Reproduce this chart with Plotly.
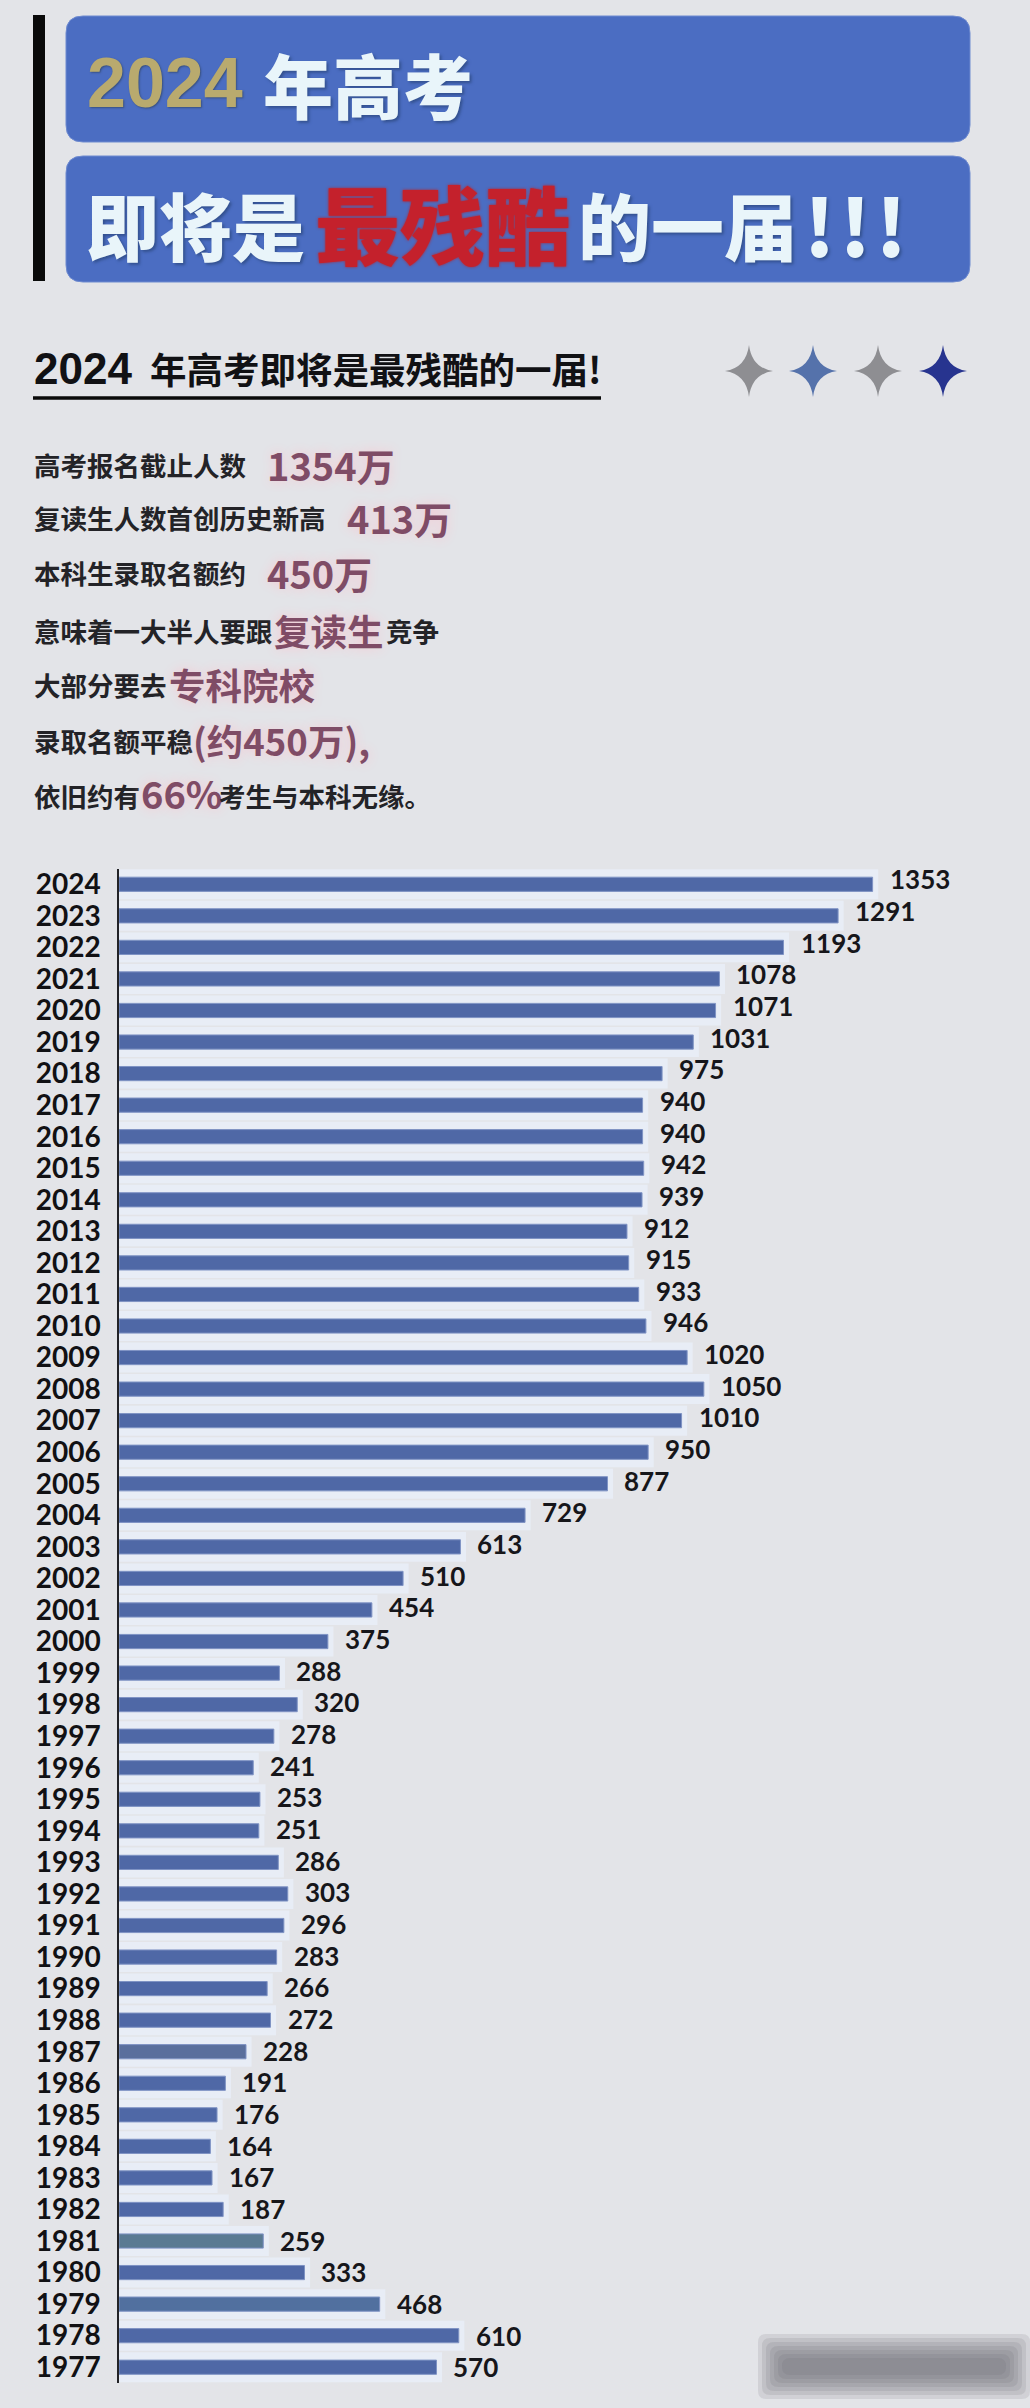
import plotly.graph_objects as go

W, H = 1030, 2408

years = [str(y) for y in range(2024, 1976, -1)]
values = [1353, 1291, 1193, 1078, 1071, 1031, 975, 940, 940, 942, 939, 912,
          915, 933, 946, 1020, 1050, 1010, 950, 877, 729, 613, 510, 454,
          375, 288, 320, 278, 241, 253, 251, 286, 303, 296, 283, 266,
          272, 228, 191, 176, 164, 167, 187, 259, 333, 468, 610, 570]
bar_colors = ['#4f68a6'] * 48
bar_colors[years.index('1981')] = '#5a7a92'
bar_colors[years.index('1987')] = '#5a6f9c'
bar_colors[years.index('1979')] = '#51709f'

BG = '#e3e4e8'
BLUE = '#4b6dc2'
WHITE = '#e9f5fa'
RED = '#c4212c'
MAUVE = '#7f4c66'
INK = '#232327'
CJK = 'Noto Sans CJK SC'
SANS = 'Liberation Sans'
NUM = 'Lato'


def px(x):
    return x / W


def py(y):
    return 1 - y / H


def rounded(x0, y0, x1, y1, r):
    p = lambda x, y: f'{px(x)} {py(y)}'
    return (f'M {p(x0 + r, y0)} L {p(x1 - r, y0)} Q {p(x1, y0)} {p(x1, y0 + r)} '
            f'L {p(x1, y1 - r)} Q {p(x1, y1)} {p(x1 - r, y1)} '
            f'L {p(x0 + r, y1)} Q {p(x0, y1)} {p(x0, y1 - r)} '
            f'L {p(x0, y0 + r)} Q {p(x0, y0)} {p(x0 + r, y0)} Z')


def star(cx, cy, rx, ry):
    p = lambda x, y: f'{px(x)} {py(y)}'
    c = p(cx + rx * 0.12, cy - ry * 0.12)
    d = p(cx + rx * 0.12, cy + ry * 0.12)
    e = p(cx - rx * 0.12, cy + ry * 0.12)
    f = p(cx - rx * 0.12, cy - ry * 0.12)
    return (f'M {p(cx, cy - ry)} Q {c} {p(cx + rx, cy)} Q {d} {p(cx, cy + ry)} '
            f'Q {e} {p(cx - rx, cy)} Q {f} {p(cx, cy - ry)} Z')


fig = go.Figure()

# pale halo behind the bars
fig.add_trace(go.Bar(y=years, x=[v + 10 for v in values], orientation='h', width=0.95,
                     marker=dict(color='#e8edf6', line_width=0), hoverinfo='skip'))
fig.add_trace(go.Bar(y=years, x=values, orientation='h', width=0.45,
                     marker=dict(color=bar_colors, line=dict(color='#7f93c4', width=1))))

shapes = [
    dict(type='rect', xref='paper', yref='paper', x0=px(33), x1=px(45), y0=py(15), y1=py(281),
         fillcolor='#0a0a0a', line_width=0),
    dict(type='path', xref='paper', yref='paper', path=rounded(66, 16, 970, 142, 17),
         fillcolor=BLUE, line=dict(color='#6f8bd0', width=1)),
    dict(type='path', xref='paper', yref='paper', path=rounded(66, 156, 970, 282, 17),
         fillcolor=BLUE, line=dict(color='#6f8bd0', width=1)),
    dict(type='line', xref='paper', yref='paper', x0=px(33), x1=px(601), y0=py(398), y1=py(398),
         line=dict(color='#0a0a0a', width=3.5)),
]
for cx, col in zip([749, 813, 878, 943], ['#8e8e92', '#5572ab', '#8e8e92', '#27348f']):
    shapes.append(dict(type='path', xref='paper', yref='paper', path=star(cx, 371, 24, 26),
                       fillcolor=col, line_width=0))
# blurred watermark, bottom right
for pad in [14, 10, 6, 2, -2, -6, -10]:
    shapes.append(dict(type='path', xref='paper', yref='paper',
                       path=rounded(772 - pad, 2348 - pad, 1016 + pad, 2385 + pad, 8),
                       fillcolor='#66666a', opacity=0.14, line_width=0))

annotations = []


def text(x, y, s, size, color=INK, family=CJK, weight=700, shadow=None):
    annotations.append(dict(xref='paper', yref='paper', x=px(x), y=py(y), text=s,
                            xanchor='left', yanchor='middle', showarrow=False, borderpad=0,
                            font=dict(size=size, color=color, family=family, weight=weight,
                                      shadow=shadow or 'none')))


# header
hd = '2px 2px 3px #33518f'
text(86, 83, '2024', 70, '#b9aa6e', SANS, 700, '1px 1px 2px #38507f')
text(262, 83, '年高考', 70, WHITE, CJK, 900, hd)
text(85, 223, '即将是', 73, WHITE, CJK, 900, hd)
text(314, 221, '最残酷', 85, RED, CJK, 900, '0 0 3px #b8242c')
text(577, 223, '的一届', 73, WHITE, CJK, 900, hd)
text(803, 223, '!\u200a!\u200a!', 78, WHITE, CJK, 900, hd)

# subtitle
text(33, 368, '2024', 44, '#111114', SANS, 700)
text(149, 368, '年高考即将是最残酷的一届!', 36.5, '#111114', CJK, 700)

# body lines
glow = '0 0 12px #f6c8d2'
text(33, 464, '高考报名截止人数', 26.5)
text(266, 464, '1354万', 38, MAUVE, CJK, 700, glow)
text(33, 517, '复读生人数首创历史新高', 26.5)
text(346, 517, '413万', 38, MAUVE, CJK, 700, glow)
text(33, 573, '本科生录取名额约', 26.5)
text(266, 573, '450万', 38, MAUVE, CJK, 700, glow)
text(33, 630, '意味着一大半人要跟', 26.5)
text(273, 630, '复读生', 36.5, MAUVE, CJK, 700, glow)
text(385, 630, '竞争', 26.5)
text(33, 684, '大部分要去', 26.5)
text(168, 684, '专科院校', 36.5, MAUVE, CJK, 700, glow)
text(33, 740, '录取名额平稳', 26.5)
text(192, 740, '(约450万),', 36.5, MAUVE, CJK, 700, glow)
text(33, 795, '依旧约有', 26.5)
text(140, 793, '66%', 38, MAUVE, CJK, 700, glow)
text(218, 795, '考生与本科无缘。', 26.5)

# value labels
for i, v in enumerate(values):
    annotations.append(dict(xref='x', yref='y', x=v, y=i, text=str(v), xanchor='left',
                            yanchor='middle', showarrow=False, xshift=15, yshift=5 - i * 5 / 47,
                            font=dict(size=26, color='#16161a', family=NUM, weight=700)))

fig.update_layout(
    width=W, height=H, autosize=False,
    margin=dict(l=0, r=0, t=0, b=0, pad=0),
    paper_bgcolor=BG, plot_bgcolor='rgba(0,0,0,0)',
    barmode='overlay', showlegend=False,
    shapes=shapes, annotations=annotations,
    xaxis=dict(domain=[px(119), 1], range=[0, (W - 119) / 0.557], fixedrange=True, automargin=False,
               showticklabels=False, showgrid=False, zeroline=False, showline=False, ticks=''),
    yaxis=dict(domain=[py(2383), py(868.5)], type='category', categoryorder='array',
               categoryarray=years, range=[47.5, -0.5], showgrid=False, ticks='', automargin=False,
               tickmode='array', tickvals=years, ticktext=years, ticklabelstandoff=11,
               showline=True, linecolor='#222226', linewidth=1.5, zeroline=False,
               tickfont=dict(size=28, color='#111114', family=NUM, weight=700)),
)

fig.write_html('out.html', config={'displayModeBar': False},
               post_script="document.body.style.margin='0';document.body.style.background='%s';" % BG)
